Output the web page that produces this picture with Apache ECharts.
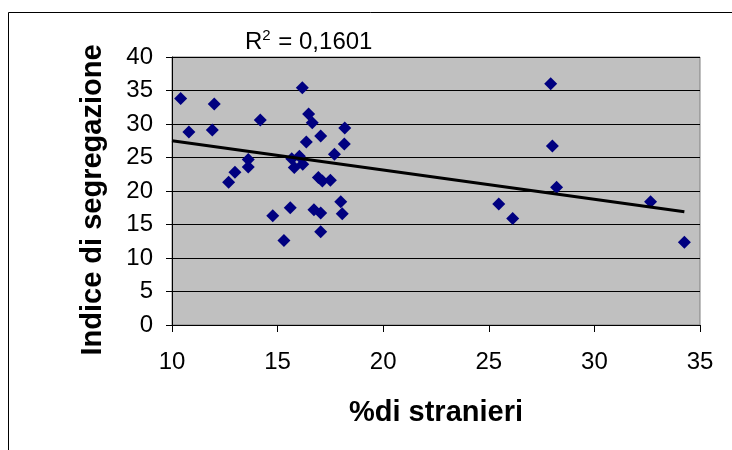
<!DOCTYPE html>
<html>
<head>
<meta charset="utf-8">
<script src="https://cdn.jsdelivr.net/npm/echarts@6/dist/echarts.min.js"></script>
<style>html,body{margin:0;padding:0;background:#fff;}#c{width:732px;height:450px;}</style>
</head>
<body>
<div id="c"></div>
<script>
// Data
const stranieri = [10.41, 10.80, 12.00, 11.91, 14.18, 16.17, 16.47, 16.64, 17.04, 16.36, 18.18, 18.16, 17.69,
  13.61, 13.61, 12.98, 12.68, 15.67, 16.03, 15.79, 16.19, 16.93, 17.12, 17.50, 17.99, 18.06, 16.72, 17.04,
  17.04, 15.60, 14.77, 15.30, 27.93, 28.01, 28.21, 25.47, 26.13, 32.66, 34.26];
const segregazione = [33.8, 28.8, 33.0, 29.1, 30.6, 35.4, 31.5, 30.2, 28.2, 27.3, 29.4, 27.0, 25.5,
  24.7, 23.6, 22.8, 21.3, 24.8, 25.2, 23.5, 24.0, 22.0, 21.5, 21.6, 18.4, 16.6, 17.2, 16.7,
  13.9, 17.5, 16.3, 12.6, 36.0, 26.7, 20.55, 18.06, 15.9, 18.4, 12.35];
const trendX = [10, 34.26];
const trendY = [27.5, 16.9];
const xTicks = [10, 15, 20, 25, 30, 35];
const yTicks = [0, 5, 10, 15, 20, 25, 30, 35, 40];

const points = stranieri.map((x, i) => [x, segregazione[i]]);
const trend = trendX.map((x, i) => [x, trendY[i]]);

const chart = echarts.init(document.getElementById('c'), null, {renderer: 'canvas'});
const font = '"Liberation Sans", Arial, sans-serif';
chart.setOption({
  animation: false,
  backgroundColor: '#ffffff',
  title: {
    text: 'R{sup|2} = 0,1601',
    left: 240, top: 23,
    textStyle: {
      fontFamily: font, fontSize: 24, fontWeight: 'normal', color: '#000',
      rich: { sup: { fontFamily: font, fontSize: 15, verticalAlign: 'top', padding: [0, 1, 14, 0], color: '#000' } }
    }
  },
  graphic: [{
    type: 'rect', shape: {x: 8.5, y: 12.5, width: 800, height: 500},
    style: {fill: 'none', stroke: '#000', lineWidth: 1}, z: -1
  }],
  grid: {
    left: 172, right: 32, top: 57, bottom: 125,
    show: true, backgroundColor: '#C0C0C0', borderColor: '#808080', borderWidth: 1
  },
  xAxis: {
    type: 'value', min: xTicks[0], max: xTicks[xTicks.length - 1], interval: 5,
    name: '%di stranieri', nameLocation: 'middle', nameGap: 73,
    nameTextStyle: {fontFamily: font, fontSize: 29, fontWeight: 'bold', color: '#000'},
    axisLine: {show: true, onZero: false, lineStyle: {color: '#000', width: 1}},
    axisTick: {show: true, inside: false, length: 7, lineStyle: {color: '#000'}},
    axisLabel: {fontFamily: font, fontSize: 24, color: '#000', margin: 25},
    splitLine: {show: false}
  },
  yAxis: {
    type: 'value', min: yTicks[0], max: yTicks[yTicks.length - 1], interval: 5,
    name: 'Indice di segregazione', nameLocation: 'middle', nameGap: 65, nameRotate: 90,
    nameTextStyle: {fontFamily: font, fontSize: 29, fontWeight: 'bold', color: '#000', padding: [0, 18, 0, 0]},
    axisLine: {show: true, lineStyle: {color: '#000', width: 1}},
    axisTick: {show: true, inside: false, length: 6, lineStyle: {color: '#000'}},
    axisLabel: {fontFamily: font, fontSize: 24, color: '#000', margin: 19},
    splitLine: {show: true, lineStyle: {color: '#000', width: 1}}
  },
  series: [
    {
      type: 'scatter', data: points, symbol: 'diamond', symbolSize: 13,
      itemStyle: {color: '#000080', opacity: 1}, z: 3
    },
    {
      type: 'line', data: trend, showSymbol: false, symbol: 'none',
      lineStyle: {color: '#000', width: 3}, z: 4
    }
  ]
});
</script>
</body>
</html>
